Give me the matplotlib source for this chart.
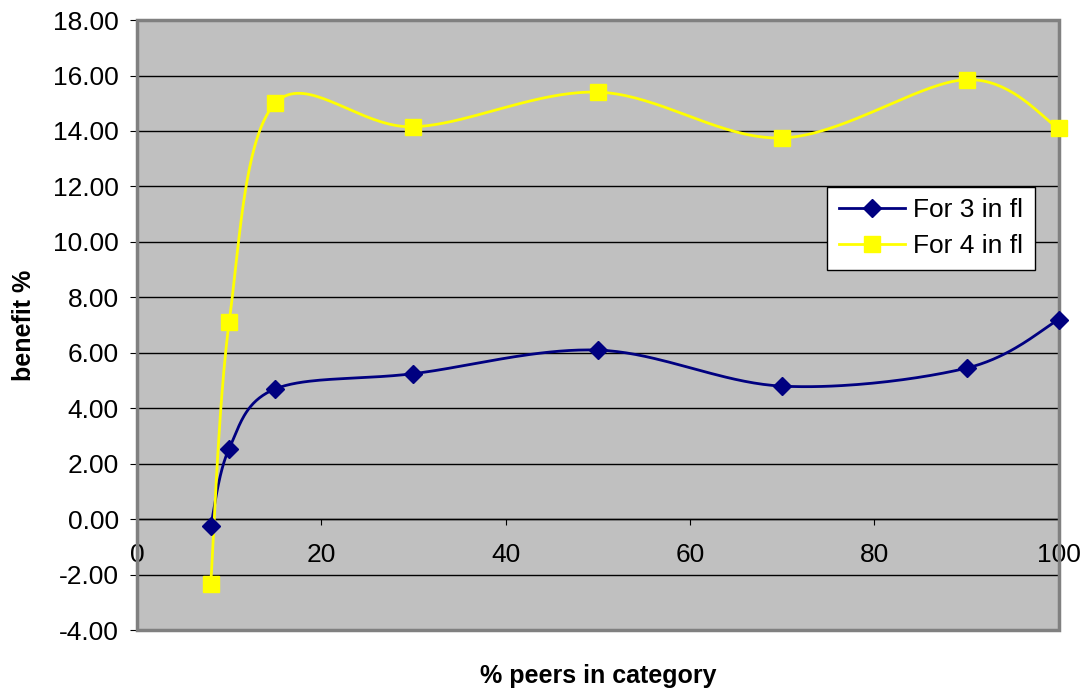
import numpy as np
import matplotlib.pyplot as plt
from matplotlib.lines import Line2D
from matplotlib.patches import Rectangle

plt.rcParams['font.family'] = ['Liberation Sans', 'DejaVu Sans']

peers = [8, 10, 15, 30, 50, 70, 90, 100]
benefit_3 = [-0.25, 2.55, 4.70, 5.25, 6.10, 4.80, 5.45, 7.20]
benefit_4 = [-2.35, 7.10, 15.00, 14.15, 15.40, 13.75, 15.85, 14.10]


def smooth(xs, ys, n=40):
    # bezier segments with catmull-rom style control points
    p = np.column_stack([xs, ys]).astype(float)
    pts = []
    for i in range(len(p) - 1):
        p0 = p[i - 1] if i > 0 else p[i]
        p1, p2 = p[i], p[i + 1]
        p3 = p[i + 2] if i + 2 < len(p) else p[i + 1]
        c1 = p1 + (p2 - p0) / 6
        c2 = p2 - (p3 - p1) / 6
        t = np.linspace(0, 1, n)[:, None]
        seg = ((1 - t) ** 3 * p1 + 3 * (1 - t) ** 2 * t * c1
               + 3 * (1 - t) * t ** 2 * c2 + t ** 3 * p2)
        pts.append(seg if i == 0 else seg[1:])
    pts = np.vstack(pts)
    return pts[:, 0], pts[:, 1]


fig = plt.figure(figsize=(10.87, 6.91), dpi=100)
ax = fig.add_axes([0.126, 0.088, 0.848, 0.883])
ax.set_facecolor('#c0c0c0')

navy = '#000080'
yellow = '#ffff00'

sx, sy = smooth(peers, benefit_3)
ax.plot(sx, sy, color=navy, lw=2, zorder=3, clip_on=False)
ax.plot(peers, benefit_3, 'D', color=navy, ms=9, zorder=7, clip_on=False)
sx, sy = smooth(peers, benefit_4)
ax.plot(sx, sy, color=yellow, lw=2, zorder=3, clip_on=False)
ax.plot(peers, benefit_4, 's', color=yellow, ms=11, zorder=7, clip_on=False)

ax.set_xlim(0, 100)
ax.set_ylim(-4, 18)
ax.set_xticks(range(0, 101, 20))
ax.set_yticks(np.arange(-4, 18.1, 2))
ax.set_yticklabels(['%.2f' % v for v in np.arange(-4, 18.1, 2)])
ax.yaxis.grid(True, color='black', lw=1)
ax.set_axisbelow(True)

for s in ['top', 'right', 'left']:
    ax.spines[s].set_visible(False)
ax.spines['bottom'].set_position(('data', 0))
ax.spines['bottom'].set_color('black')
ax.spines['bottom'].set_linewidth(1)
ax.add_patch(Rectangle((0, 0), 1, 1, transform=ax.transAxes, fill=False,
                       edgecolor='#808080', lw=2.5, zorder=5, clip_on=False))

ax.tick_params(axis='x', labelsize=19, length=4, pad=13, direction='out')
ax.tick_params(axis='y', labelsize=19, length=5, pad=8, direction='out')

ax.set_xlabel('% peers in category', fontsize=18, fontweight='bold')
ax.xaxis.set_label_coords(0.5, -0.055)
ax.set_ylabel('benefit %', fontsize=18, fontweight='bold', labelpad=12)

handles = [
    Line2D([], [], color=navy, lw=2, marker='D', ms=9),
    Line2D([], [], color=yellow, lw=2, marker='s', ms=11),
]
leg = ax.legend(handles, ['For 3 in fl', 'For 4 in fl'], loc='upper left',
                bbox_to_anchor=(0.749, 0.727), fontsize=19, frameon=True,
                fancybox=False, edgecolor='black', framealpha=1,
                handlelength=2.5, borderpad=0.45, labelspacing=0.45,
                handletextpad=0.3, borderaxespad=0)
leg.get_frame().set_linewidth(1)
leg.set_zorder(8)

fig.savefig('out.png', dpi=100)
